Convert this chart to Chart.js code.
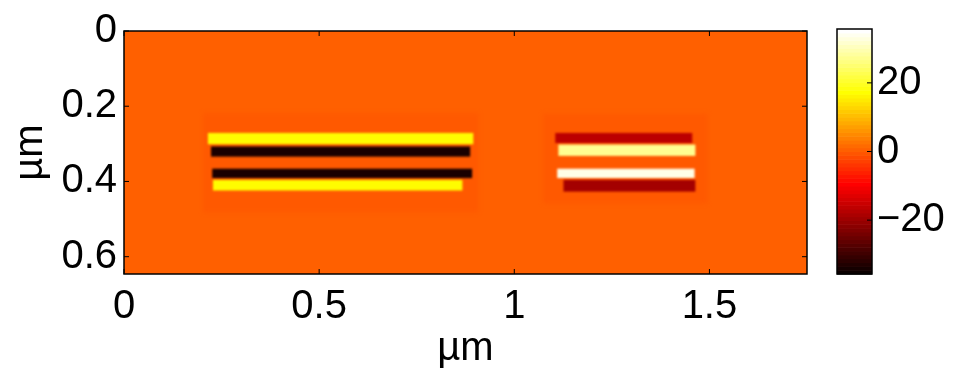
<!DOCTYPE html>
<html>
<head>
<meta charset="utf-8">
<script src="https://cdn.jsdelivr.net/npm/chart.js@4.4.1/dist/chart.umd.min.js"></script>
<style>
  html, body { margin: 0; padding: 0; background: #fff; }
  #wrap { position: relative; width: 957px; height: 374px; }
  #mapCanvas { position: absolute; left: 0; top: 0; }
  #barCanvas { position: absolute; left: 820px; top: 0; }
</style>
</head>
<body>
<div id="wrap">
  <canvas id="mapCanvas" width="820" height="374"></canvas>
  <canvas id="barCanvas" width="137" height="374"></canvas>
</div>
<script>
// ── Axes (µm) ──
const xTicks = [0, 0.5, 1, 1.5];
const yTicks = [0, 0.2, 0.4, 0.6];
const xRange = [0, 1.75];
const yRange = [0, 0.646];

// ── Colour scale ──
const colorLimits = [-35.7, 35.7];
const colorTicks = [-20, 0, 20];
const colorLevels = 64;

// ── Field values ──
const backgroundValue = 1.2;

// faint boxes around each group
const haloX0 = [0.203, 1.074];
const haloX1 = [0.908, 1.495];
const haloY0 = [0.218, 0.220];
const haloY1 = [0.482, 0.458];
const haloValue = [0.45, 0.45];

// strips: left group then right group
const stripX0 = [0.215, 0.223, 0.226, 0.228, 1.105, 1.113, 1.110, 1.126];
const stripX1 = [0.895, 0.887, 0.892, 0.867, 1.456, 1.464, 1.462, 1.464];
const stripY0 = [0.271, 0.307, 0.366, 0.396, 0.271, 0.302, 0.366, 0.396];
const stripY1 = [0.301, 0.334, 0.391, 0.424, 0.298, 0.332, 0.391, 0.427];
const stripValue = [17.5, -33, -33, 17.5, -16, 28, 34, -18.5];

// ── MATLAB "hot" colormap ──
function hot(v, levels) {
  let t = (v - colorLimits[0]) / (colorLimits[1] - colorLimits[0]);
  t = Math.min(1, Math.max(0, t));
  if (levels) t = Math.min(levels, Math.floor(t * levels) + 1) / levels;
  const r = Math.min(1, t / 0.375);
  const g = Math.min(1, Math.max(0, (t - 0.375) / 0.375));
  const b = Math.max(0, (t - 0.75) / 0.25);
  return `rgb(${Math.round(r * 255)},${Math.round(g * 255)},${Math.round(b * 255)})`;
}

const font = { family: '"Liberation Sans", Arial, sans-serif', size: 40 };
const fmt = v => (v < 0 ? '\u2212' + Math.abs(v) : String(v));

// ── Heatmap boxes, placed through the scales ──
const fieldPlugin = {
  id: 'field',
  beforeDatasetsDraw(chart) {
    const { ctx, chartArea: a, scales: { x, y } } = chart;
    const box = (x0, x1, y0, y1, v) => {
      const px0 = x.getPixelForValue(x0), px1 = x.getPixelForValue(x1);
      const py0 = y.getPixelForValue(y0), py1 = y.getPixelForValue(y1);
      ctx.fillStyle = hot(v);
      ctx.fillRect(Math.min(px0, px1), Math.min(py0, py1), Math.abs(px1 - px0), Math.abs(py1 - py0));
    };
    ctx.save();
    ctx.beginPath();
    ctx.rect(a.left, a.top, a.width, a.height);
    ctx.clip();
    ctx.fillStyle = hot(backgroundValue);
    ctx.fillRect(a.left, a.top, a.width, a.height);
    ctx.filter = 'blur(2px)';
    haloX0.forEach((_, i) => box(haloX0[i], haloX1[i], haloY0[i], haloY1[i], haloValue[i]));
    ctx.filter = 'blur(1.2px)';
    stripX0.forEach((_, i) => box(stripX0[i], stripX1[i], stripY0[i], stripY1[i], stripValue[i]));
    ctx.restore();
  }
};

// ── Box frame with inward ticks ──
const framePlugin = {
  id: 'frame',
  afterDraw(chart) {
    const { ctx, chartArea: a, scales: { x, y } } = chart;
    const len = 5;
    ctx.save();
    ctx.strokeStyle = '#000';
    ctx.lineWidth = 1;
    ctx.beginPath();
    xTicks.forEach(v => {
      const px = x.getPixelForValue(v);
      ctx.moveTo(px, a.bottom); ctx.lineTo(px, a.bottom - len);
      ctx.moveTo(px, a.top); ctx.lineTo(px, a.top + len);
    });
    yTicks.forEach(v => {
      const py = y.getPixelForValue(v);
      ctx.moveTo(a.left, py); ctx.lineTo(a.left + len, py);
      ctx.moveTo(a.right, py); ctx.lineTo(a.right - len, py);
    });
    ctx.stroke();
    ctx.lineWidth = 1.5;
    ctx.strokeRect(a.left, a.top, a.width, a.height);
    ctx.restore();
  }
};

new Chart(document.getElementById('mapCanvas'), {
  type: 'scatter',
  data: { datasets: [] },
  options: {
    responsive: false,
    animation: false,
    layout: { padding: { top: 22, right: 13, left: 0, bottom: 0 } },
    plugins: { legend: { display: false }, tooltip: { enabled: false } },
    scales: {
      x: {
        type: 'linear', min: xRange[0], max: xRange[1],
        grid: { display: false, drawTicks: false },
        border: { display: false },
        afterBuildTicks: s => { s.ticks = xTicks.map(v => ({ value: v })); },
        afterFit: s => { s.height = 100; },
        ticks: { font, color: '#000', padding: 9, maxRotation: 0, autoSkip: false, callback: fmt },
        title: { display: true, text: 'µm', font, color: '#000', padding: { top: 0, bottom: 1 } }
      },
      y: {
        type: 'linear', reverse: true, min: yRange[0], max: yRange[1],
        grid: { display: false, drawTicks: false },
        border: { display: false },
        afterBuildTicks: s => { s.ticks = yTicks.map(v => ({ value: v })); },
        afterFit: s => { s.width = 124; },
        ticks: { font, color: '#000', padding: 7, autoSkip: false, callback: fmt },
        title: { display: true, text: 'µm', font, color: '#000', padding: { top: 7, bottom: 0 } }
      }
    }
  },
  plugins: [fieldPlugin, framePlugin]
});

// ── Colour bar ──
const colorbarPlugin = {
  id: 'colorbar',
  beforeDatasetsDraw(chart) {
    const { ctx, chartArea: a, scales: { y } } = chart;
    const step = (colorLimits[1] - colorLimits[0]) / colorLevels;
    ctx.save();
    for (let i = 0; i < colorLevels; i++) {
      const lo = colorLimits[0] + i * step;
      const p0 = y.getPixelForValue(lo), p1 = y.getPixelForValue(lo + step);
      ctx.fillStyle = hot(lo + step / 2, colorLevels);
      ctx.fillRect(a.left, Math.min(p0, p1), a.width, Math.abs(p1 - p0) + 0.6);
    }
    ctx.strokeStyle = '#000';
    ctx.lineWidth = 1;
    ctx.beginPath();
    colorTicks.forEach(v => {
      const py = y.getPixelForValue(v);
      ctx.moveTo(a.right, py); ctx.lineTo(a.right - 5, py);
    });
    ctx.stroke();
    ctx.lineWidth = 1.5;
    ctx.strokeRect(a.left, a.top, a.width, a.height);
    ctx.restore();
  }
};

new Chart(document.getElementById('barCanvas'), {
  type: 'scatter',
  data: { datasets: [] },
  options: {
    responsive: false,
    animation: false,
    layout: { padding: { top: 22, left: 17, right: 0, bottom: 100 } },
    plugins: { legend: { display: false }, tooltip: { enabled: false } },
    scales: {
      x: { type: 'linear', display: false, min: 0, max: 1 },
      y: {
        type: 'linear', position: 'right', min: colorLimits[0], max: colorLimits[1],
        grid: { display: false, drawTicks: false },
        border: { display: false },
        afterBuildTicks: s => { s.ticks = colorTicks.map(v => ({ value: v })); },
        afterFit: s => { s.width = 85; },
        ticks: { font, color: '#000', padding: 5, autoSkip: false, callback: fmt }
      }
    }
  },
  plugins: [colorbarPlugin]
});
</script>
</body>
</html>
